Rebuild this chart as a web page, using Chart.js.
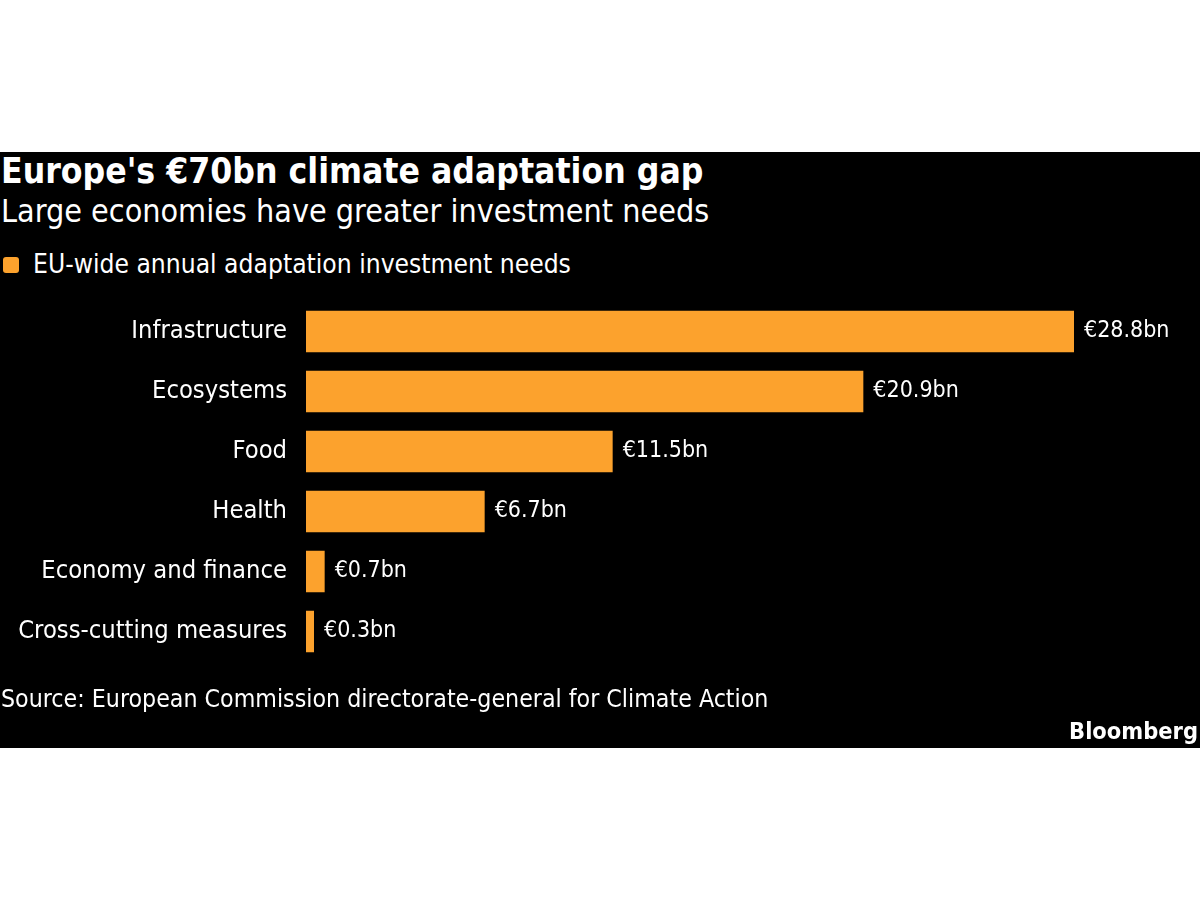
<!DOCTYPE html>
<html>
<head>
<meta charset="utf-8">
<script src="https://cdn.jsdelivr.net/npm/chart.js@4"></script>
<style>
  body { margin: 0; background: #fff; width: 1200px; height: 900px; position: relative; overflow: hidden; }
  #panel { position: absolute; left: 0; top: 152px; width: 1200px; height: 596px; background: #000; }
  .txt { position: absolute; color: #fff; font-family: "DejaVu Sans Condensed", "DejaVu Sans", sans-serif; white-space: nowrap; font-stretch: condensed; }
  #title { left: 1px; top: 150px; font-size: 35.2px; font-weight: bold; }
  #subtitle { left: 1px; top: 192px; font-size: 32px; }
  #legend { left: 33px; top: 249px; font-size: 26.2px; }
  #legendBox { position: absolute; left: 3px; top: 257px; width: 16px; height: 16px; border-radius: 3px; background: #fca22d; }
  #source { left: 1px; top: 684px; font-size: 24.7px; }
  #brand { right: 2px; top: 717px; font-size: 23.4px; font-weight: bold; }
  #chartWrap { position: absolute; left: 0; top: 152px; width: 1200px; height: 596px; }
</style>
</head>
<body>
<div id="panel"></div>
<div class="txt" id="title">Europe's €70bn climate adaptation gap</div>
<div class="txt" id="subtitle">Large economies have greater investment needs</div>
<div id="legendBox"></div>
<div class="txt" id="legend">EU-wide annual adaptation investment needs</div>
<div id="chartWrap"><canvas id="barChart" width="1200" height="596"></canvas></div>
<div class="txt" id="source">Source: European Commission directorate-general for Climate Action</div>
<div class="txt" id="brand">Bloomberg</div>
<script>
// Chart data
const categories = [
  "Infrastructure",
  "Ecosystems",
  "Food",
  "Health",
  "Economy and finance",
  "Cross-cutting measures"
];
const investmentNeeds = [28.8, 20.9, 11.5, 6.7, 0.7, 0.3];
const valueLabels = ["€28.8bn", "€20.9bn", "€11.5bn", "€6.7bn", "€0.7bn", "€0.3bn"];

const barColor = "#fca22d";
const fontFamily = "'DejaVu Sans Condensed', 'DejaVu Sans', sans-serif";

// Draw the value labels to the right of each bar
const valueLabelPlugin = {
  id: "valueLabels",
  afterDatasetsDraw(chart) {
    const ctx = chart.ctx;
    const meta = chart.getDatasetMeta(0);
    ctx.save();
    ctx.fillStyle = "#fff";
    ctx.font = "23px " + fontFamily;
    ctx.textAlign = "left";
    ctx.textBaseline = "middle";
    meta.data.forEach((bar, i) => {
      ctx.fillText(valueLabels[i], bar.x + 10, bar.y);
    });
    ctx.restore();
  }
};

const ctx = document.getElementById("barChart").getContext("2d");
new Chart(ctx, {
  type: "bar",
  data: {
    labels: categories,
    datasets: [{
      label: "EU-wide annual adaptation investment needs",
      data: investmentNeeds,
      backgroundColor: barColor,
      borderWidth: 0,
      barPercentage: 0.69,
      categoryPercentage: 1.0
    }]
  },
  options: {
    indexAxis: "y",
    responsive: false,
    animation: false,
    layout: {
      padding: { top: 149.5, bottom: 86.5, left: 0, right: 94 }
    },
    plugins: {
      legend: { display: false },
      tooltip: { enabled: false }
    },
    scales: {
      x: {
        display: false,
        min: 0,
        max: 30
      },
      y: {
        grid: { display: false },
        border: { display: false },
        ticks: {
          color: "#fff",
          padding: 11,
          font: { family: fontFamily, size: 25.3 }
        },
        afterFit(scale) {
          scale.width = 306;
        }
      }
    }
  },
  plugins: [valueLabelPlugin]
});
</script>
</body>
</html>
